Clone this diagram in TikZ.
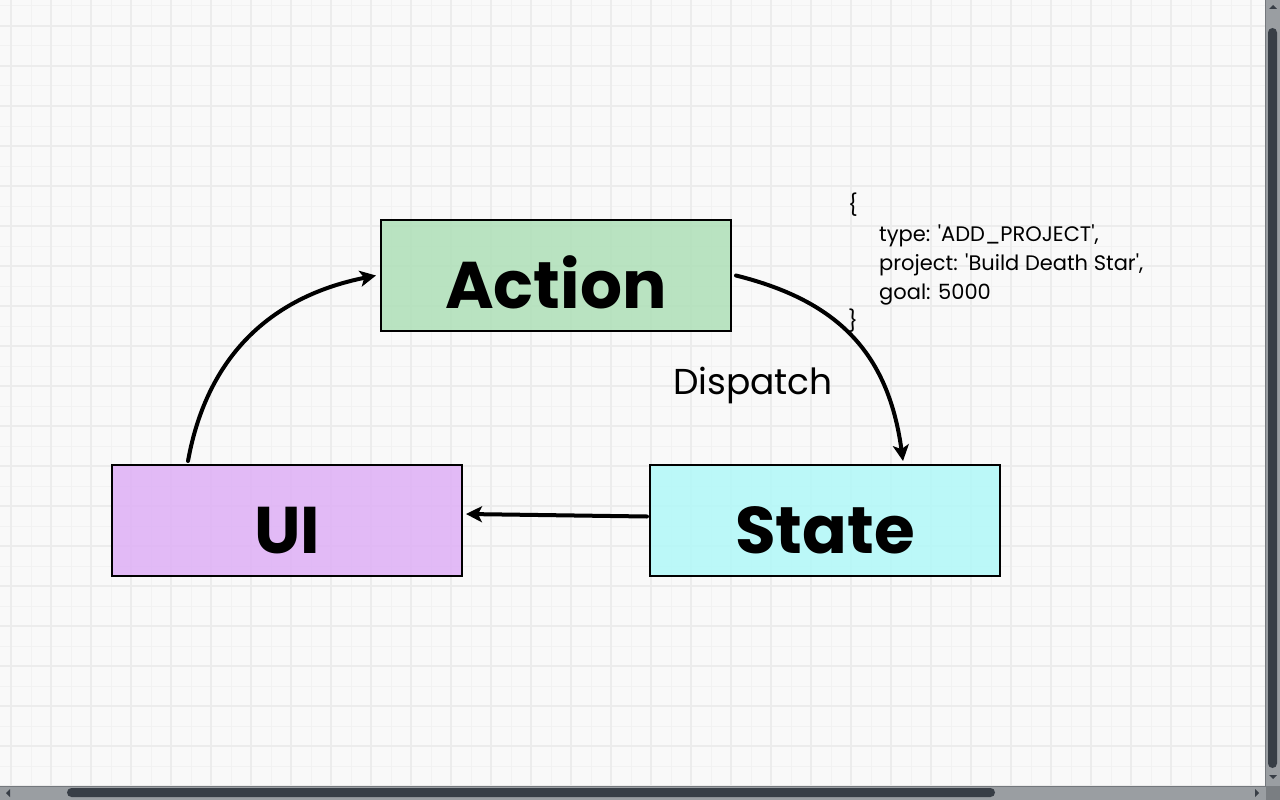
\documentclass[tikz,border=0pt]{standalone}
\usepackage{fontspec}
\setmainfont{Poppins}
\usetikzlibrary{arrows.meta}
\definecolor{bgcol}{RGB}{249,249,249}
\definecolor{gridthick}{RGB}{236,236,236}
\definecolor{gridthin}{RGB}{242,242,242}
\definecolor{actiongreen}{RGB}{174,224,184}
\definecolor{uipurple}{RGB}{222,176,246}
\definecolor{statecyan}{RGB}{177,248,248}
\definecolor{bartrack}{RGB}{154,158,162}
\definecolor{barthumb}{RGB}{56,62,70}
\definecolor{barcorner}{RGB}{122,126,130}
\tikzset{
    box/.style={draw, line width=2pt, rectangle, minimum width=350pt, minimum height=111pt,
        inner sep=0pt, fill opacity=0.85, text opacity=1, text height=66pt, text depth=0pt,
        font=\fontsize{66}{66}\selectfont\bfseries},
    flow/.style={line width=4pt, line cap=round, -{Stealth[length=16pt,width=16pt,inset=4pt]}},
    code/.style={align=left, inner sep=0pt, font=\fontsize{21}{29}\selectfont},
    barbit/.style={fill=barthumb}
}
\begin{document}
\begin{tikzpicture}[x=1pt,y=-1pt]
    \useasboundingbox (0,0) rectangle (1280,800);
    \fill[bgcol] (0,0) rectangle (1280,800);
    \foreach \gx in {31,71,...,1271} \draw[gridthin, line width=1pt] (\gx,0) -- (\gx,800);
    \foreach \gy in {6,46,...,806} \draw[gridthin, line width=1pt] (0,\gy) -- (1280,\gy);
    \foreach \gx in {11,51,...,1251} \draw[gridthick, line width=2pt] (\gx,0) -- (\gx,800);
    \foreach \gy in {26,66,...,786} \draw[gridthick, line width=2pt] (0,\gy) -- (1280,\gy);

    \node[box, fill=actiongreen] (action) at (556,275.5) {Action};
    \node[box, fill=uipurple] (ui) at (287,520.5) {UI};
    \node[box, fill=statecyan] (state) at (825,520.5) {State};

    \draw[flow] ([xshift=-99pt,yshift=3pt]ui.north) .. controls +(20,-110) and +(-100,20) .. ([xshift=-4pt]action.west);
    \draw[flow] ([xshift=4pt]action.east) .. controls +(100,25) and +(-15,-110) .. ([xshift=78pt,yshift=3pt]state.north);
    \draw[flow] ([xshift=-2pt,yshift=4pt]state.west) -- ([xshift=3pt,yshift=6.5pt]ui.east);

    \node[font=\fontsize{36}{36}\selectfont] (dispatch) at (753,385) {Dispatch};
    \node[code, anchor=north west] (payload) at (848,193)
        {\{\\
         \hspace*{31pt}type: \textquotesingle ADD\_PROJECT\textquotesingle,\\
         \hspace*{31pt}project: \textquotesingle Build Death Star\textquotesingle,\\
         \hspace*{31pt}goal: 5000\\
         \}};

    \fill[bartrack] (1265,0) rectangle (1280,786);
    \fill[bartrack] (0,786) rectangle (1266,800);
    \draw[barthumb!70, line width=1pt] (1265.5,0) -- (1265.5,786);
    \draw[barthumb!70, line width=1pt] (0,786) -- (1266,786);
    \fill[barcorner] (1266,786) rectangle (1280,800);
    \fill[barthumb, rounded corners=4.5pt] (1268,28) rectangle (1277,768);
    \fill[barthumb, rounded corners=4.5pt] (67,788) rectangle (995,797);
    \fill[barbit] (1269,9) -- (1277,9) -- (1273,5) -- cycle;
    \fill[barbit] (1269,775) -- (1277,775) -- (1273,779) -- cycle;
    \fill[barbit] (10,789) -- (10,797) -- (6,793) -- cycle;
    \fill[barbit] (1255,789) -- (1255,797) -- (1259,793) -- cycle;
\end{tikzpicture}
\end{document}
